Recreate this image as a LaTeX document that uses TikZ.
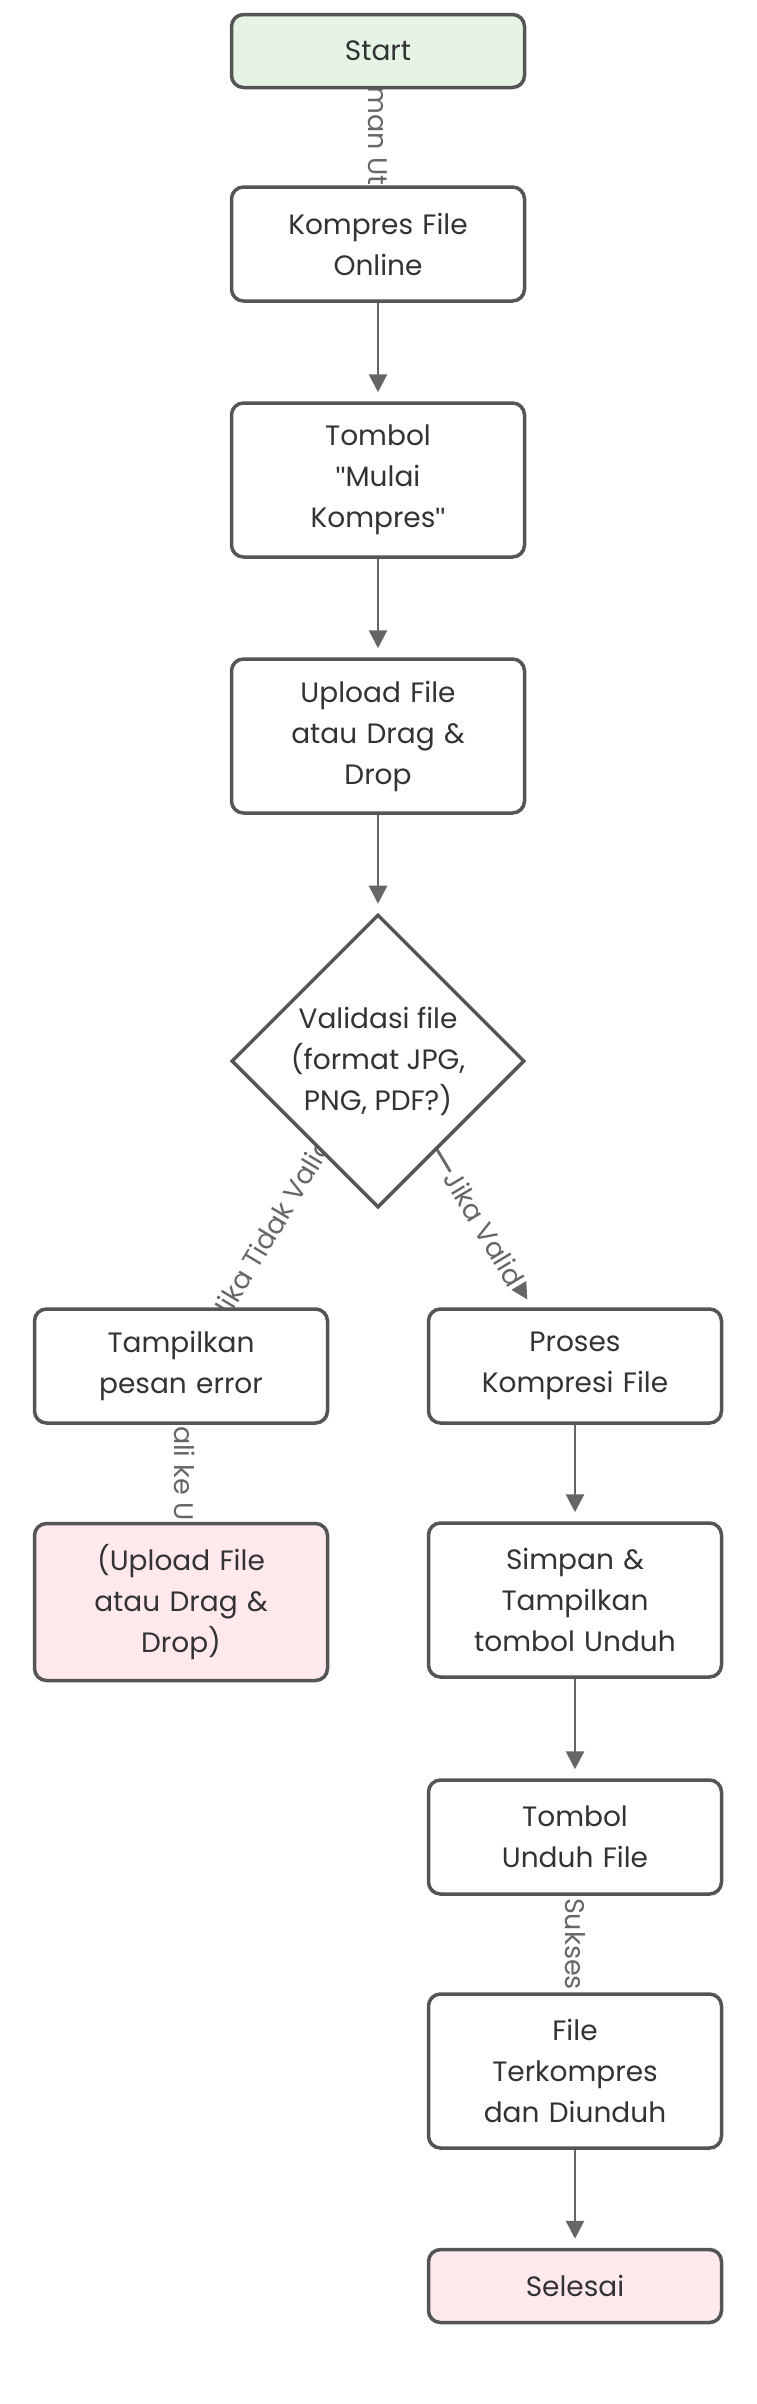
\documentclass[tikz,border=0pt]{standalone}
\usepackage{fontspec}
\setmainfont{Poppins}
\newfontfamily\quotefont{Liberation Sans}
\usetikzlibrary{shapes,arrows.meta,calc}
\definecolor{edgegray}{HTML}{666666}
\definecolor{boxgray}{HTML}{555555}
\definecolor{inkgray}{HTML}{333333}
\definecolor{startgreen}{HTML}{E6F4E6}
\definecolor{endpink}{HTML}{FFE9EC}
\newcommand{\boxfont}{\fontsize{28}{41}\selectfont}
\newcommand{\edgefont}{\fontsize{27}{32}\selectfont}
\newcommand{\dq}{{\quotefont\symbol{34}}}
\pgfdeclarelayer{background}
\pgfsetlayers{background,main}

\begin{document}
\begin{tikzpicture}[x=1pt,y=-1pt]
\tikzstyle{box}=[rectangle,rounded corners=12pt,draw=boxgray,line width=3.5pt,fill=white,minimum width=293pt,minimum height=#1,text width=270pt,align=center,text=inkgray,font=\boxfont]
\tikzstyle{decision}=[diamond,aspect=1,draw=boxgray,line width=3.5pt,fill=white,minimum width=293pt,minimum height=293pt,inner sep=0pt]
\tikzstyle{flow}=[-{Triangle[length=18pt,width=18pt]},line width=2.8pt,draw=edgegray,shorten >=9pt]
\tikzstyle{elabel}=[midway,sloped,fill=white,inner sep=2pt,text=edgegray,font=\edgefont]
\useasboundingbox (0,0) rectangle (757,2404);

\node[box=73pt,fill=startgreen](start) at (378,51) {Start};
\node[box=114pt](kompres) at (378,244) {Kompres File\\Online};
\node[box=154pt](mulai) at (378,480) {Tombol\\\dq Mulai\\Kompres\dq};
\node[box=154pt](upload) at (378,736) {Upload File\\atau Drag \&\\Drop};
\node[decision,label={[text=inkgray,font=\boxfont,align=center]center:Validasi file\\(format JPG,\\PNG, PDF?)}](valid) at (378,1061) {};
\node[box=114pt](error) at (181,1366) {Tampilkan\\pesan error};
\node[box=157pt,fill=endpink](back) at (181,1602) {(Upload File\\atau Drag \&\\Drop)};
\node[box=114pt](proses) at (575,1366) {Proses\\Kompresi File};
\node[box=154pt](simpan) at (575,1600) {Simpan \&\\Tampilkan\\tombol Unduh};
\node[box=114pt](unduh) at (575,1837) {Tombol\\Unduh File};
\node[box=154pt](hasil) at (575,2071) {File\\Terkompres\\dan Diunduh};
\node[box=73pt,fill=endpink](selesai) at (575,2286) {Selesai};

% connectors go under the boxes
\begin{pgfonlayer}{background}
\draw[flow] (start) -- node[elabel]{Halaman Utama} (kompres);
\draw[flow] (kompres) -- (mulai);
\draw[flow] (mulai) -- (upload);
\draw[flow] (upload) -- (valid);
\draw[flow] ($(valid.south)!0.4!(valid.west)$) -- node[elabel]{Jika Tidak Valid} ([xshift=43pt]error.north);
\draw[flow] ($(valid.south)!0.4!(valid.east)$) -- node[elabel]{Jika Valid} ([xshift=-43pt]proses.north);
\draw[flow] (error) -- node[elabel]{Kembali ke Upload} (back);
\draw[flow] (proses) -- (simpan);
\draw[flow] (simpan) -- (unduh);
\draw[flow] (unduh) -- node[elabel]{Sukses} (hasil);
\draw[flow] (hasil) -- (selesai);
\end{pgfonlayer}
\end{tikzpicture}
\end{document}
